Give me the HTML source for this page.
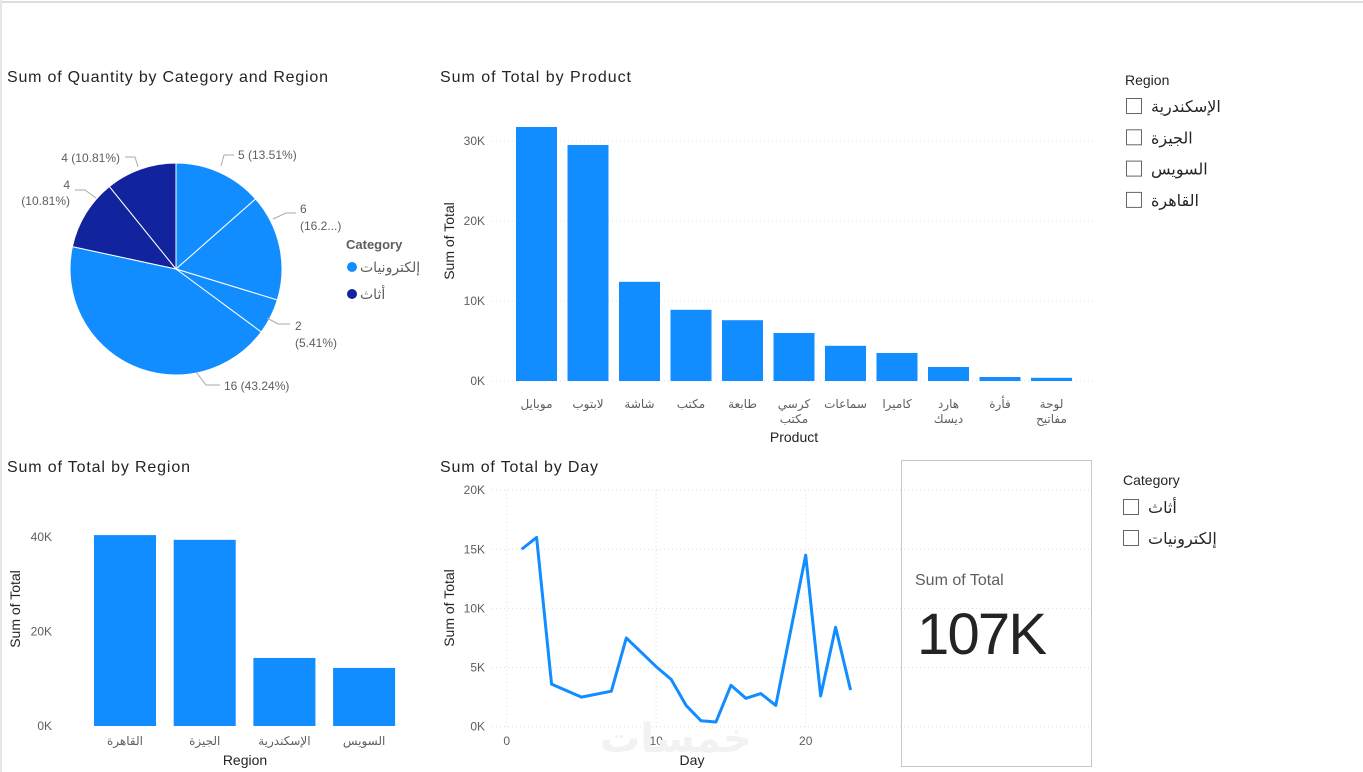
<!DOCTYPE html>
<html><head><meta charset="utf-8"><style>
html,body{margin:0;padding:0;background:#fff;width:1363px;height:772px;overflow:hidden}
svg{display:block;font-family:"Liberation Sans","Noto Sans CJK SC","DejaVu Sans",sans-serif}
</style></head><body>
<svg id="s" width="1363" height="772" xmlns="http://www.w3.org/2000/svg">
<line x1="0" y1="2" x2="1363" y2="2" stroke="#ddd" stroke-width="2"/>
<line x1="1" y1="0" x2="1" y2="772" stroke="#e6e6e6" stroke-width="2"/>
<text x="7" y="82" font-size="16" fill="#252423" textLength="321">Sum of Quantity by Category and Region</text>
<text x="440" y="82" font-size="16" fill="#252423" textLength="191">Sum of Total by Product</text>
<text x="7" y="472" font-size="16" fill="#252423" textLength="183">Sum of Total by Region</text>
<text x="440" y="472" font-size="16" fill="#252423" textLength="158">Sum of Total by Day</text>
<g id="pie"></g>
<g font-size="12" fill="#605e5c">
<polyline points="221,166 224,155 234,155" fill="none" stroke="#aaa"/>
<text x="238" y="159">5 (13.51%)</text>
<polyline points="273,219 286,213 296,213" fill="none" stroke="#aaa"/>
<text x="300" y="213">6</text><text x="300" y="230">(16.2...)</text>
<polyline points="267,318 278,324 290,324" fill="none" stroke="#aaa"/>
<text x="295" y="330">2</text><text x="295" y="347">(5.41%)</text>
<polyline points="196,372 206,385 220,385" fill="none" stroke="#aaa"/>
<text x="224" y="390">16 (43.24%)</text>
<polyline points="138,167 135,157 125,157" fill="none" stroke="#aaa"/>
<text x="120" y="162" text-anchor="end">4 (10.81%)</text>
<polyline points="96,198 85,190 75,190" fill="none" stroke="#aaa"/>
<text x="70" y="189" text-anchor="end">4</text><text x="70" y="205" text-anchor="end">(10.81%)</text>
</g>
<g>
<text x="346" y="249" font-size="13" font-weight="bold" fill="#605e5c">Category</text>
<circle cx="352" cy="267" r="5" fill="#118DFF"/>
<text x="360" y="272" font-size="14" fill="#605e5c">إلكترونيات</text>
<circle cx="352" cy="294" r="5" fill="#12239E"/>
<text x="360" y="299" font-size="14" fill="#605e5c">أثاث</text>
</g>
<g id="prod"></g>
<g id="reg"></g>
<g id="day"></g>
<text x="600" y="752" font-size="40" font-weight="bold" fill="#f2f2f2">خمسات</text>
<g>
<rect x="901.5" y="460.5" width="190" height="306" fill="none" stroke="#c8c8c8"/>
<text x="915" y="585" font-size="16" fill="#605e5c">Sum of Total</text>
<text x="917" y="654" font-size="58" fill="#252423" textLength="130">107K</text>
</g>
<g>
<text x="1125" y="85" font-size="14" fill="#252423">Region</text>
</g>
<g id="rs"></g>
<g>
<text x="1123" y="485" font-size="14" fill="#252423">Category</text>
</g>
<g id="cs"></g>
</svg>
<script>
const pieValues=[5,6,2,16,4,4];
const pieCats=["e","e","e","e","f","f"];
const products=["موبايل","لابتوب","شاشة","مكتب","طابعة","كرسي مكتب","سماعات","كاميرا","هارد ديسك","فأرة","لوحة مفاتيح"];
const productTotals=[31.75,29.5,12.4,8.9,7.6,6.0,4.4,3.5,1.75,0.5,0.4];
const productTicks=[0,10,20,30];
const regions=["القاهرة","الجيزة","الإسكندرية","السويس"];
const regionTotals=[40.4,39.4,14.4,12.3];
const regionTicks=[0,20,40];
const days=[1,2,3,5,7,8,10,11,12,13,14,15,16,17,18,20,21,22,23];
const dayTotals=[15,16,3.6,2.5,3.0,7.5,5.07,4.0,1.8,0.5,0.4,3.5,2.4,2.8,1.8,14.5,2.6,8.4,3.1];
const dayYTicks=[0,5,10,15,20];
const dayXTicks=[0,10,20];
const regionSlicer=["الإسكندرية","الجيزة","السويس","القاهرة"];
const categorySlicer=["أثاث","إلكترونيات"];
const NS="http://www.w3.org/2000/svg";
function mk(p,t,a){const e=document.createElementNS(NS,t);for(const k in a)e.setAttribute(k,a[k]);p.appendChild(e);return e;}
const BLUE="#118DFF",NAVY="#12239E";
(function(){
const g=document.getElementById('pie');const cx=176,cy=269,r=106;
const tot=pieValues.reduce((a,b)=>a+b,0);let a0=-Math.PI/2;
pieValues.forEach((v,i)=>{
const a1=a0+v/tot*2*Math.PI;
const x0=cx+r*Math.cos(a0),y0=cy+r*Math.sin(a0),x1=cx+r*Math.cos(a1),y1=cy+r*Math.sin(a1);
const p=mk(g,'path',{d:`M${cx},${cy}L${x0},${y0}A${r},${r} 0 ${a1-a0>Math.PI?1:0} 1 ${x1},${y1}Z`,fill:pieCats[i]=="e"?BLUE:NAVY,stroke:"#fff","stroke-width":1});


a0=a1;});
})();
function axisBar(g,opt){
 const {x0,x1,y0,ppk,ticks,cats,vals,first,pitch,w,yTitle,xTitle,xTitleX,xTitleY,yTitleX,yTitleY,grid,tickX,lblY}=opt;
 ticks.forEach(t=>{const y=y0-t*ppk;
  if(grid){const l=mk(g,'line',{x1:x0,x2:x1,y1:y,y2:y,stroke:"#ddd","stroke-dasharray":"1,3"});
  
  }
  const tx=mk(g,'text',{x:tickX,y:y+4,"font-size":12,fill:"#605e5c","text-anchor":"end"});tx.textContent=t+"K";
  
  });
 cats.forEach((c,i)=>{const x=first+i*pitch,h=vals[i]*ppk;
  const b=mk(g,'rect',{x:x,y:y0-h,width:w,height:h,fill:BLUE});
  
  
  const t=mk(g,'text',{x:x+w/2,y:lblY,"font-size":12,fill:"#605e5c","text-anchor":"middle"});
  
  
  const parts=c.split(' ');parts.forEach((p,j)=>{mk(t,'tspan',{x:x+w/2,dy:j?15:0}).textContent=p;});});
 const xt=mk(g,'text',{x:xTitleX,y:xTitleY,"font-size":14,fill:"#252423","text-anchor":"middle"});xt.textContent=xTitle;
 
 
 const yt=mk(g,'text',{x:0,y:0,"font-size":14,fill:"#252423","text-anchor":"middle",transform:`translate(${yTitleX},${yTitleY}) rotate(-90)`});yt.textContent=yTitle;
 
 
}
axisBar(document.getElementById('prod'),{x0:492,x1:1095,y0:381,ppk:8,ticks:productTicks,cats:products,vals:productTotals,first:516,pitch:51.5,w:41,yTitle:"Sum of Total",xTitle:"Product",xTitleX:794,xTitleY:442,yTitleX:454,yTitleY:241,grid:true,tickX:485,lblY:408});
axisBar(document.getElementById('reg'),{x0:60,x1:420,y0:726,ppk:4.725,ticks:regionTicks,cats:regions,vals:regionTotals,first:94,pitch:79.7,w:62,yTitle:"Sum of Total",xTitle:"Region",xTitleX:245,xTitleY:765,yTitleX:20,yTitleY:609,grid:false,tickX:52,lblY:745});
(function(){
const g=document.getElementById('day');const xs=d=>506.7+d*14.95,ys=v=>726.7-v*11.83;
dayYTicks.forEach(t=>{const y=ys(t);const l=mk(g,'line',{x1:492,x2:1092,y1:y,y2:y,stroke:"#ddd","stroke-dasharray":"1,3"});
 
 
 const tx=mk(g,'text',{x:485,y:y+4,"font-size":12,fill:"#605e5c","text-anchor":"end"});tx.textContent=t+"K";
 
 });
dayXTicks.forEach(t=>{const x=xs(t);const l=mk(g,'line',{x1:x,x2:x,y1:490,y2:727,stroke:"#ddd","stroke-dasharray":"1,3"});
 
 
 const tx=mk(g,'text',{x:x,y:745,"font-size":12,fill:"#605e5c","text-anchor":"middle"});tx.textContent=t;
 
 });
const pl=mk(g,'polyline',{points:days.map((d,i)=>xs(d)+","+ys(dayTotals[i])).join(" "),fill:"none",stroke:BLUE,"stroke-width":3,"stroke-linejoin":"round"});


const xt=mk(g,'text',{x:692,y:765,"font-size":14,fill:"#252423","text-anchor":"middle"});xt.textContent="Day";


const yt=mk(g,'text',{x:0,y:0,"font-size":14,fill:"#252423","text-anchor":"middle",transform:"translate(454,608) rotate(-90)"});yt.textContent="Sum of Total";


})();
function slicer(id,items,x,y0,step){const g=document.getElementById(id);
 items.forEach((it,i)=>{const y=y0+i*step;
  const r=mk(g,'rect',{x:x+0.5,y:y-7.5,width:15,height:15,fill:"#fff",stroke:"#666"});
  
  
  const t=mk(g,'text',{x:x+25,y:y+6,"font-size":16,fill:"#252423"});t.textContent=it;
  
  });}
slicer('rs',regionSlicer,1126,106,31.3);
slicer('cs',categorySlicer,1123,507,31);
</script>
</body></html>
